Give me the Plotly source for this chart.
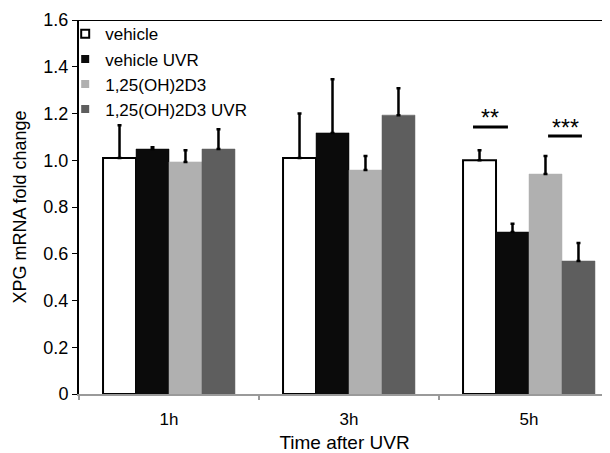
import plotly.graph_objects as go

categories = ["1h", "3h", "5h"]
series_names = ["vehicle", "vehicle UVR", "1,25(OH)2D3", "1,25(OH)2D3 UVR"]
values = [
    [1.01, 1.01, 1.00],
    [1.048, 1.117, 0.693],
    [0.993, 0.958, 0.941],
    [1.048, 1.193, 0.569],
]
errors = [
    [0.14, 0.19, 0.043],
    [0.008, 0.23, 0.035],
    [0.05, 0.06, 0.077],
    [0.085, 0.115, 0.077],
]
fills = ["#ffffff", "#0b0b0b", "#b0b0b0", "#5e5e5e"]
outlines = ["#000000", "#0b0b0b", "#b0b0b0", "#5e5e5e"]
y_ticks = [0, 0.2, 0.4, 0.6, 0.8, 1.0, 1.2, 1.4, 1.6]
y_ticktext = ["0", "0.2", "0.4", "0.6", "0.8", "1.0", "1.2", "1.4", "1.6"]

# significance brackets: (x0, x1, y, label, label_y)
sig = [
    (1.689, 1.883, 1.142, "**", 1.181),
    (2.106, 2.294, 1.104, "***", 1.138),
]

font = "Liberation Sans, Arial, sans-serif"
fig = go.Figure()
for name, v, e, f, o in zip(series_names, values, errors, fills, outlines):
    fig.add_trace(go.Bar(
        name=name, x=categories, y=v, showlegend=False,
        marker=dict(color=f, line=dict(color=o, width=2 if f == "#ffffff" else 0.5)),
        error_y=dict(type="data", array=e, arrayminus=[0] * len(e), symmetric=False,
                     color="#000000", thickness=2.5, width=2),
    ))
# legend entries with small square swatches
for name, f, o in zip(series_names, fills, outlines):
    fig.add_trace(go.Scatter(
        name=name, x=[None], y=[None], mode="markers",
        marker=dict(symbol="square", size=8, color=f,
                    line=dict(color=o, width=2 if f == "#ffffff" else 0)),
    ))

shapes = [dict(type="line", xref="paper", yref="y", x0=0, x1=1, y0=1.6, y1=1.6,
               line=dict(color="#000000", width=2))]
annotations = []
for x0, x1, yv, lab, ly in sig:
    shapes.append(dict(type="line", xref="x", yref="y", x0=x0, x1=x1, y0=yv, y1=yv,
                       line=dict(color="#000000", width=3)))
    annotations.append(dict(x=(x0 + x1) / 2, y=ly, xref="x", yref="y", text=lab,
                            yanchor="middle", showarrow=False,
                            font=dict(size=23, color="#000000", family=font)))

fig.update_layout(
    width=602, height=445,
    margin=dict(l=71, r=0, t=12, b=59),
    paper_bgcolor="white", plot_bgcolor="white",
    barmode="group", bargap=0.267, bargroupgap=0,
    font=dict(family=font, size=17, color="#000000"),
    showlegend=True,
    legend=dict(x=-0.026, y=1.01, xanchor="left", yanchor="top", bgcolor="rgba(0,0,0,0)",
                font=dict(size=17, family=font), tracegroupgap=0, itemwidth=30),
    shapes=shapes, annotations=annotations,
    xaxis=dict(range=[-0.5, 2.45], showgrid=False, showline=True, linecolor="#9a9a9a",
               linewidth=2, ticks="outside", tickson="boundaries", tickcolor="#9a9a9a",
               ticklen=4, tickwidth=2, tickfont=dict(size=17), ticklabelstandoff=9,
               title=dict(text="Time after UVR", font=dict(size=19), standoff=9)),
    yaxis=dict(range=[0, 1.6], showgrid=False, showline=True, linecolor="#000000",
               linewidth=2, ticks="outside", ticklen=5, tickcolor="#000000", tickwidth=1,
               tickvals=y_ticks, ticktext=y_ticktext, zeroline=False, tickfont=dict(size=18),
               title=dict(text="XPG mRNA fold change", font=dict(size=18), standoff=12)),
)
fig.write_html("out.html")
